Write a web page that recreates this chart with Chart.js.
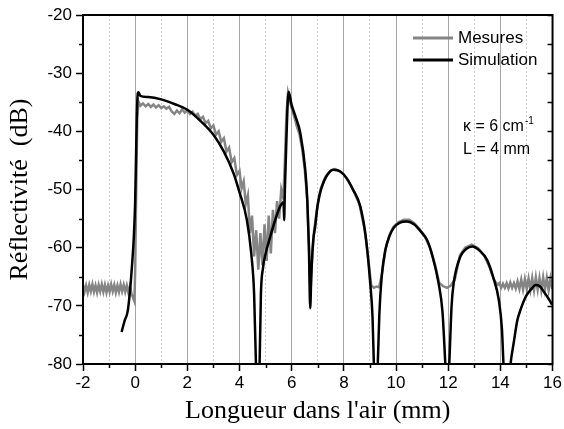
<!DOCTYPE html>
<html>
<head>
<meta charset="utf-8">
<script src="https://cdn.jsdelivr.net/npm/chart.js@4.4.1/dist/chart.umd.min.js"></script>
<style>
  body { margin: 0; background: #fff; }
  canvas { display: block; }
</style>
</head>
<body>
<canvas id="graficoReflectivite" width="564" height="429"></canvas>
<script>
// mesures (gris)
var mesuresX = [
  -2.00,-1.94,-1.88,-1.82,-1.76,-1.70,-1.64,-1.58,-1.52,-1.46,-1.40,-1.34,-1.28,-1.22,-1.16,-1.10,
  -1.04,-0.98,-0.92,-0.86,-0.80,-0.74,-0.68,-0.62,-0.56,-0.50,-0.44,-0.38,-0.32,-0.26,-0.20,-0.14,
  -0.08,-0.03,0.00,0.04,0.08,0.12,0.20,0.30,0.40,0.50,0.60,0.70,0.80,0.90,
  1.00,1.10,1.20,1.30,1.40,1.50,1.60,1.70,1.80,1.90,
  2.00,2.10,2.20,2.30,2.40,2.50,2.60,2.70,2.80,2.90,
  3.00,3.10,3.20,3.30,3.40,3.50,3.60,3.70,3.80,3.90,
  4.00,4.08,4.16,4.24,4.32,4.40,4.48,4.56,4.64,4.72,4.80,4.88,
  4.96,5.04,5.12,5.20,5.28,5.36,5.44,5.52,5.60,5.68,5.74,5.80,5.86,
  5.92,6.00,6.10,6.20,6.30,6.40,6.50,6.60,6.68,6.72,6.78,6.86,6.95,
  7.10,7.30,7.50,7.65,7.80,8.00,8.20,8.40,8.60,8.80,8.95,
  9.05,9.15,9.25,9.35,9.45,9.60,9.75,9.90,10.10,10.30,10.50,10.70,10.90,
  11.10,11.30,11.50,11.65,11.80,11.95,12.10,12.25,12.45,12.65,12.90,13.15,13.40,13.60,13.75,13.90,
  13.96,14.03,14.10,14.17,14.24,14.31,14.38,14.45,14.52,14.59,14.66,
  14.73,14.80,14.87,14.94,15.01,15.08,15.15,15.22,15.29,15.36,15.43,15.50,
  15.57,15.64,15.71,15.78,15.85,15.92,15.99];
var mesuresY = [
  -66.4,-67.6,-66.5,-67.7,-66.4,-67.5,-66.3,-67.6,-66.5,-67.7,-66.4,-67.5,-66.3,-67.6,-66.4,-67.7,
  -66.5,-67.6,-66.3,-67.5,-66.4,-67.7,-66.5,-67.6,-66.3,-67.5,-66.4,-67.6,-66.5,-67.7,-66.6,-67.9,
  -68.6,-69.2,-64.0,-50.0,-38.0,-34.8,-35.6,-35.2,-35.7,-35.3,-35.8,-35.4,-35.9,-35.5,
  -36.0,-35.7,-36.1,-35.8,-36.6,-37.0,-36.4,-36.9,-36.2,-36.8,
  -36.4,-37.0,-36.6,-37.3,-37.0,-37.9,-37.5,-38.6,-38.2,-39.5,
  -39.0,-40.6,-40.0,-41.8,-41.2,-43.5,-42.8,-45.3,-44.6,-47.5,
  -46.8,-49.8,-48.6,-52.5,-51.0,-57.5,-54.5,-61.5,-57.0,-63.8,-57.5,-63.0,
  -56.0,-62.3,-54.5,-61.0,-53.5,-57.5,-52.0,-55.0,-50.0,-51.5,-45.0,-37.0,-33.4,
  -34.6,-36.0,-37.5,-39.2,-40.5,-43.0,-46.5,-52.0,-62.0,-68.0,-62.0,-57.0,-54.0,
  -50.0,-47.8,-46.7,-46.5,-46.7,-47.4,-48.8,-50.5,-52.6,-57.0,-62.5,
  -66.5,-66.9,-66.7,-66.8,-64.8,-60.2,-57.8,-56.4,-55.6,-55.2,-55.2,-55.8,-56.8,
  -58.0,-60.0,-63.0,-66.0,-66.6,-66.9,-66.5,-65.5,-61.3,-60.0,-59.5,-60.1,-61.5,-63.5,-65.5,-66.4,
  -66.1,-66.9,-66.2,-66.9,-66.1,-67.0,-66.0,-66.9,-66.1,-67.0,-65.8,
  -67.1,-65.5,-67.2,-65.4,-67.1,-65.3,-67.2,-65.2,-67.3,-65.1,-67.2,-65.2,
  -67.3,-65.1,-67.2,-65.2,-67.3,-65.3,-67.1];

// simulation (noir)
var simX = [-0.52,-0.40,-0.29,-0.20,-0.12,-0.05,0.00,0.03,0.06,0.10,0.13,0.20,0.50,1.00,1.50,2.00,2.50,3.00,
  3.40,3.77,4.00,4.28,4.45,4.56,4.63,4.70,4.77,4.82,4.90,5.00,5.18,5.35,5.56,5.69,5.71,5.74,5.80,5.88,
  6.00,6.15,6.33,6.52,6.60,6.66,6.71,6.75,6.82,6.90,7.00,7.16,7.35,7.60,7.86,8.10,8.35,8.63,8.85,9.01,
  9.10,9.15,9.23,9.30,9.36,9.45,9.59,9.75,9.91,10.15,10.42,10.70,11.00,11.19,11.40,11.63,11.78,11.89,
  11.96,12.04,12.13,12.21,12.47,12.70,12.92,13.20,13.49,13.72,13.94,14.06,14.12,14.25,14.39,14.51,
  14.65,14.77,15.00,15.21,15.34,15.50,15.70,15.85,15.98];
var simY = [-74.5,-72.5,-71.0,-67.5,-63.0,-58.0,-52.0,-45.0,-38.0,-33.5,-33.3,-33.9,-34.1,-34.5,-35.3,-36.3,-38.2,-40.6,
  -43.5,-47.2,-50.5,-55.2,-61.0,-68.0,-80.0,-86.0,-80.0,-68.0,-63.5,-61.0,-58.1,-55.5,-52.9,-52.2,-55.3,-50.0,-41.0,-33.2,
  -35.5,-37.5,-40.3,-46.6,-52.0,-60.0,-70.4,-65.0,-59.0,-56.4,-52.5,-49.5,-47.6,-46.6,-46.9,-48.0,-50.0,-52.9,-58.5,-66.1,
  -72.0,-80.0,-86.0,-80.0,-71.5,-65.0,-60.4,-58.0,-56.6,-55.7,-55.5,-56.0,-57.5,-58.7,-61.5,-66.1,-71.0,-80.0,
  -86.0,-80.0,-70.0,-66.1,-61.5,-60.2,-59.8,-60.5,-62.1,-65.0,-69.0,-74.0,-80.0,-88.0,-80.0,-76.4,
  -72.5,-70.7,-68.2,-67.0,-66.4,-66.6,-67.8,-68.8,-69.8];

var xTicks = [-2, 0, 2, 4, 6, 8, 10, 12, 14, 16];
var yTicks = [-80, -70, -60, -50, -40, -30, -20];

function pontos(xs, ys) {
    return xs.map(function (x, i) { return {x: x, y: ys[i]}; });
}

var sans = '"Liberation Sans", Arial, sans-serif';
var serif = '"Liberation Serif", "Times New Roman", serif';

// cadre, petites graduations, légende et annotation
var decor = {
    id: 'decor',
    afterDraw: function (chart) {
        var ctx = chart.ctx;
        var a = chart.chartArea;
        var sx = chart.scales.x, sy = chart.scales.y;
        ctx.save();
        ctx.strokeStyle = '#000';
        ctx.lineWidth = 1.5;
        for (var v = -75; v <= -25; v += 10) {
            var py = Math.round(sy.getPixelForValue(v)) + 0.5;
            ctx.beginPath(); ctx.moveTo(a.left - 4, py); ctx.lineTo(a.left, py); ctx.stroke();
        }
        for (var w = -80; w <= -20; w += 5) {
            var pr = Math.round(sy.getPixelForValue(w)) + 0.5;
            ctx.beginPath(); ctx.moveTo(a.right, pr); ctx.lineTo(a.right - 5, pr); ctx.stroke();
        }
        for (var h = -1; h <= 15; h += 2) {
            var px = Math.round(sx.getPixelForValue(h)) + 0.5;
            ctx.beginPath(); ctx.moveTo(px, a.bottom); ctx.lineTo(px, a.bottom + 4); ctx.stroke();
        }
        ctx.lineWidth = 2;
        ctx.strokeRect(a.left, a.top, a.right - a.left, a.bottom - a.top);

        // légende
        ctx.lineWidth = 3;
        ctx.strokeStyle = '#858585';
        ctx.beginPath(); ctx.moveTo(413, 38); ctx.lineTo(453, 38); ctx.stroke();
        ctx.strokeStyle = '#000';
        ctx.beginPath(); ctx.moveTo(413, 60); ctx.lineTo(453, 60); ctx.stroke();
        ctx.fillStyle = '#000';
        ctx.font = '17px ' + sans;
        ctx.textBaseline = 'middle';
        ctx.textAlign = 'left';
        ctx.fillText('Mesures', 458, 38);
        ctx.fillText('Simulation', 458, 60);

        ctx.font = '16px ' + sans;
        ctx.textBaseline = 'alphabetic';
        var t1 = '\u03BA = 6 cm';
        ctx.fillText(t1, 463, 131);
        var larg = ctx.measureText(t1).width;
        ctx.fillText('L = 4 mm', 463, 154);
        ctx.font = '10px ' + sans;
        ctx.fillText('-1', 463 + larg + 1, 124);
        ctx.restore();
    }
};

var ctxR = document.getElementById('graficoReflectivite').getContext('2d');
var grafico = new Chart(ctxR, {
    type: 'line',
    data: {
        datasets: [
            {
                label: 'Mesures',
                data: pontos(mesuresX, mesuresY),
                borderColor: '#858585',
                borderWidth: 2.5,
                pointRadius: 0,
                tension: 0,
                order: 2
            },
            {
                label: 'Simulation',
                data: pontos(simX, simY),
                borderColor: '#000',
                borderWidth: 2.5,
                pointRadius: 0,
                cubicInterpolationMode: 'monotone',
                order: 1
            }
        ]
    },
    options: {
        responsive: false,
        animation: false,
        layout: { padding: { top: 15, right: 11, left: 0, bottom: 0 } },
        plugins: { legend: { display: false }, tooltip: { enabled: false } },
        scales: {
            xm: {
                type: 'linear',
                position: 'top',
                min: -2, max: 16,
                ticks: { display: false, stepSize: 1 },
                grid: {
                    drawTicks: false,
                    color: function (c) { return Math.abs(c.tick.value % 2) === 1 ? '#cfcfcf' : 'transparent'; },
                    lineWidth: 1
                },
                border: { display: false, dash: [2, 2] },
                afterFit: function (s) { s.height = 0; }
            },
            x: {
                type: 'linear',
                min: -2, max: 16,
                afterBuildTicks: function (s) { s.ticks = xTicks.map(function (v) { return {value: v}; }); },
                ticks: {
                    color: '#000',
                    font: { family: sans, size: 17 },
                    padding: 2,
                    maxRotation: 0,
                    autoSkip: false
                },
                grid: { color: '#a5a5a5', lineWidth: 1, tickLength: 7, tickColor: '#000', tickWidth: 1.5 },
                border: { display: true, color: '#000', width: 2 },
                title: {
                    display: true,
                    text: "Longueur dans l'air (mm)",
                    color: '#000',
                    font: { family: serif, size: 26 },
                    padding: { top: 0, bottom: 2 }
                },
                afterFit: function (s) { s.height = 65; }
            },
            y: {
                type: 'linear',
                min: -80, max: -20,
                afterBuildTicks: function (s) { s.ticks = yTicks.map(function (v) { return {value: v}; }); },
                ticks: {
                    color: '#000',
                    font: { family: sans, size: 17 },
                    padding: 4
                },
                grid: { drawOnChartArea: false, tickLength: 7, tickColor: '#000', tickWidth: 1.5 },
                border: { display: true, color: '#000', width: 2 },
                title: {
                    display: true,
                    text: 'Réflectivité  (dB)',
                    color: '#000',
                    font: { family: serif, size: 26 },
                    padding: { top: 5, bottom: 0 }
                },
                afterFit: function (s) { s.width = 83; }
            }
        }
    },
    plugins: [decor]
});
</script>
</body>
</html>
